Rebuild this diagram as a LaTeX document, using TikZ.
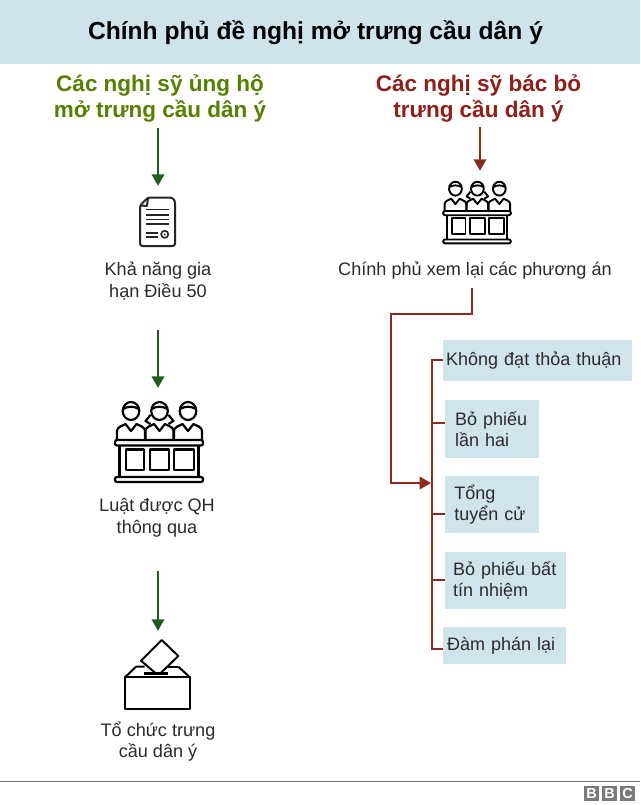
\documentclass[tikz,border=0pt]{standalone}
\usepackage{fontspec}
\setmainfont{Liberation Sans}
\usetikzlibrary{arrows.meta}
\definecolor{bandblue}{HTML}{CFE3EA}
\definecolor{boxblue}{HTML}{D0E4EB}
\definecolor{headgreen}{HTML}{568000}
\definecolor{arrowgreen}{HTML}{1F5C1E}
\definecolor{headred}{HTML}{8F1F18}
\definecolor{arrowred}{HTML}{8F2A1C}
\definecolor{inktext}{HTML}{2B2B2B}
\definecolor{logogrey}{HTML}{7A7A7A}
\tikzset{
  headtext/.style={font=\bfseries\fontsize{22.5}{26}\selectfont,align=center,inner sep=0pt},
  labeltext/.style={font=\fontsize{18.1}{21.7}\selectfont,align=center,inner sep=0pt,text=inktext},
  optionbox/.style={fill=boxblue,font=\fontsize{18}{21.7}\selectfont,align=left,text=inktext,inner ysep=0pt,anchor=north west},
  iconbox/.style={inner sep=0pt,draw=none},
  garrow/.style={draw=arrowgreen,line width=2.2pt,-{Triangle[length=11.5pt,width=12.5pt]}},
  rarrow/.style={draw=arrowred,line width=2.2pt,-{Triangle[length=11.5pt,width=12.5pt]}},
  rline/.style={draw=arrowred,line width=2.2pt},
  logoletter/.style={fill=logogrey,text=white,font=\bfseries\fontsize{14.5}{14.5}\selectfont,inner sep=0pt,minimum width=15.5pt,minimum height=15pt,anchor=north west}
}
\newcommand{\personicon}[2]{%
  \draw (#1,-29) ellipse (8.3 and 9);
  \draw (#1-8,-31) .. controls (#1-3,-34) and (#1+3,-34) .. (#1+8,-31);
  \draw (#1-14,0) -- (#1-14,-9) .. controls (#1-14,-13) and (#1-9,-14) .. (#1-5.5,-16) -- (#1,-9) -- (#1+5.5,-16) .. controls (#1+9,-14) and (#1+14,-13) .. (#1+14,-9) -- (#1+14,0);
}
\newcommand{\juryicon}[4]{%
  \begin{scope}[shift={(#1,#2)},scale=#3,line width=#4,draw=black,line join=round]
    \personicon{-28}{}
    \personicon{29}{}
    \personicon{0.5}{}
    \draw (-8.5,-25) -- (-13.5,-19) -- (-8.5,-16);
    \draw (9.5,-25) -- (14.5,-19) -- (9.5,-16);
    \draw[fill=white,rounded corners=2pt] (-44,0) rectangle (44,5.5);
    \draw[fill=white,rounded corners=2pt] (-44,37) rectangle (44,42);
    \draw (-39.5,5.5) -- (-39.5,37);
    \draw (39.5,5.5) -- (39.5,37);
    \draw (-33,9.5) rectangle (-15,30);
    \draw (-9,9.5) rectangle (10.3,30);
    \draw (15,9.5) rectangle (35,30);
  \end{scope}}
\begin{document}
\begin{tikzpicture}[x=1pt,y=-1pt]
\useasboundingbox (0,0) rectangle (640,805);
\fill[white] (0,0) rectangle (640,805);
\fill[bandblue] (0,0) rectangle (640,64);
\node[font=\bfseries\fontsize{24.6}{28}\selectfont,inner sep=0pt,text=black] (title) at (315.5,33) {Chính phủ đề nghị mở trưng cầu dân ý};

% left column
\node[headtext,text=headgreen] (ghead) at (160,98.5) {Các nghị sỹ ủng hộ\\mở trưng cầu dân ý};
\node[iconbox,minimum width=36pt,minimum height=50pt] (doc) at (158,222) {};
\begin{scope}[line width=2pt,draw=black!85,line join=round]
  \draw[rounded corners=2.5pt] (148,197.5) -- (172,197.5) -- (175,200.5) -- (175,246) -- (140,246) -- (140,205.5) -- cycle;
  \draw (148,197.5) -- (147,206) -- (140,205.5);
  \draw[line width=1.6pt] (146,209.3) -- (169.3,209.3) (146,214.7) -- (169.3,214.7) (146,219.3) -- (169.3,219.3) (146,223.7) -- (169.3,223.7);
  \draw[line width=1.6pt] (146,232.7) -- (158.3,232.7) (146,236.7) -- (158.3,236.7);
  \draw[line width=1.6pt] (164.7,234.3) circle (3.6);
  \fill (164.7,234.3) circle (1);
\end{scope}
\node[labeltext] (t1) at (158,281) {Khả năng gia\\hạn Điều 50};
\node[iconbox,minimum width=88pt,minimum height=84pt] (jury1) at (158,441) {};
\juryicon{159}{440}{1}{2.2pt}
\node[labeltext] (t2) at (157,518) {Luật được QH\\thông qua};
\node[iconbox,minimum width=66pt,minimum height=70pt] (ballot) at (158,674) {};
\begin{scope}[line width=2pt,draw=black,line join=round]
  \draw (125,677.3) rectangle (190,708.7);
  \draw (125,677.3) -- (136,666.7) -- (144.5,666.7);
  \draw (178.3,666.7) -- (168,666.7);
  \draw (178.3,666.7) -- (190,677.3);
  \draw (155,672.7) -- (141,660.7) -- (161.7,640) -- (178.3,656) -- (161,672.7);
  \draw[line width=2.4pt] (144.3,673.5) -- (168.3,673.5);
\end{scope}
\node[labeltext] (t3) at (158,741.5) {Tổ chức trưng\\cầu dân ý};

% right column
\node[headtext,text=headred] (rhead) at (478.5,98.5) {Các nghị sỹ bác bỏ\\trưng cầu dân ý};
\node[iconbox,minimum width=68pt,minimum height=64pt] (jury2) at (477,212) {};
\juryicon{477}{211}{0.77}{1.9pt}
\node[labeltext] (t4) at (475,271) {Chính phủ xem lại các phương án};

% option boxes
\node[optionbox,inner xsep=3pt,text width=183pt,minimum height=41.4pt] (o1) at (443,339.3) {Không đạt thỏa thuận};
\node[optionbox,inner xsep=10pt,text width=74pt,minimum height=57.7pt] (o2) at (445,400) {Bỏ phiếu\\lần hai};
\node[optionbox,inner xsep=9.5pt,text width=75.3pt,minimum height=57pt] (o3) at (444.7,476) {Tổng\\tuyển cử};
\node[optionbox,inner xsep=8pt,text width=104.7pt,minimum height=57pt] (o4) at (445,551.7) {Bỏ phiếu bất\\tín nhiệm};
\node[optionbox,inner xsep=4pt,text width=114.7pt,minimum height=37pt] (o5) at (443,626.7) {Đàm phán lại};

% connectors
\draw[garrow,shorten <=6pt] (ghead.south -| doc.north) -- ([yshift=11pt]doc.north);
\draw[garrow,shorten <=30pt] (t1.south -| jury1.north) -- ([yshift=11pt]jury1.north);
\draw[garrow,shorten <=33pt] (t2.south -| ballot.north) -- ([yshift=8pt]ballot.north);
\draw[rarrow,shorten <=5pt] (rhead.south -| 480,0) -- ([yshift=9pt]jury2.north -| 480,0);
\coordinate (trunktop) at (432,359);
\coordinate (trunkbot) at (432,650);
\draw[rline] (trunktop) -- (trunkbot);
\draw[rline] (o1.west |- 0,360) -- (trunktop |- 0,360);
\draw[rline] (o2.west |- 0,423) -- (trunktop |- 0,423);
\draw[rline] (o3.west |- 0,514) -- (trunktop |- 0,514);
\draw[rline] (o4.west |- 0,580) -- (trunktop |- 0,580);
\draw[rline] (o5.west |- 0,649) -- (trunktop |- 0,649);
\coordinate (tee) at (431,483);
\draw[rarrow,shorten <=8pt] (t4.south -| 472,0) -- (472,314) -- (391,314) -- (391,483) -- (tee);

% footer
\draw[draw=black!55,line width=1pt] (0,781) -- (640,781);
\node[logoletter] (bbca) at (583.7,786) {B};
\node[logoletter] (bbcb) at (601.7,786) {B};
\node[logoletter] (bbcc) at (619.7,786) {C};
\end{tikzpicture}
\end{document}
